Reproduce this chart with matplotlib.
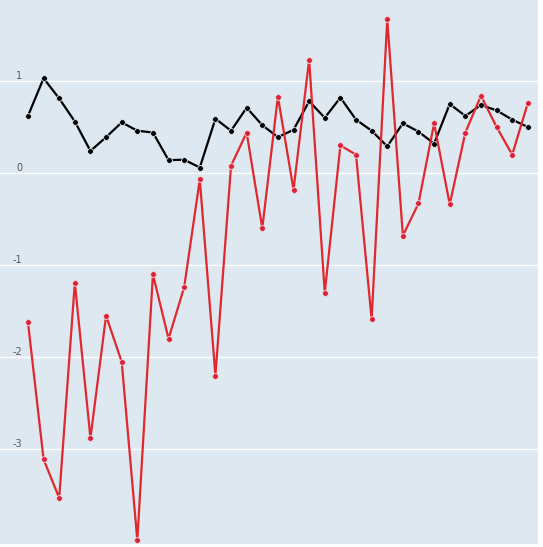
import matplotlib

matplotlib.use("Agg")
import matplotlib.pyplot as plt
import numpy as np

# values, one per x step
black_vals = [0.62, 1.03, 0.81, 0.56, 0.24, 0.39, 0.55, 0.46, 0.44, 0.14, 0.145,
              0.06, 0.59, 0.46, 0.71, 0.52, 0.39, 0.47, 0.78, 0.60, 0.82, 0.58,
              0.46, 0.29, 0.54, 0.45, 0.32, 0.75, 0.62, 0.74, 0.68, 0.58, 0.50]
red_vals = [-1.62, -3.11, -3.53, -1.19, -2.88, -1.55, -2.05, -3.99, -1.10, -1.80,
            -1.24, -0.07, -2.20, 0.08, 0.44, -0.60, 0.83, -0.18, 1.23, -1.30,
            0.30, 0.20, -1.59, 1.67, -0.68, -0.33, 0.54, -0.34, 0.44, 0.84,
            0.50, 0.20, 0.76]
y_ticks = [-3, -2, -1, 0, 1]
y_tick_labels = ["-3", "-2", "-1", "0", "1"]

BG = "#dde8f0"

fig = plt.figure(figsize=(5.43, 5.47), dpi=100)
fig.patch.set_facecolor("white")
ax = fig.add_axes([0, 3 / 547, 538 / 543, 544 / 547])
ax.set_facecolor(BG)

x = np.arange(len(black_vals))
ax.plot(x, black_vals, color="black", lw=1.6, marker="o", ms=4.2,
        mfc="black", mec=BG, mew=0.6, zorder=3)
ax.plot(x, red_vals, color="#e0282f", lw=1.6, marker="o", ms=4.2,
        mfc="#d8233f", mec="#f4d6d6", mew=0.6, zorder=4)

ax.set_xlim(-1.79, 32.65)
ax.set_ylim(-4.03, 1.88)
ax.set_xticks([])
ax.set_yticks(y_ticks)
ax.set_yticklabels(y_tick_labels)
ax.grid(axis="y", color="white", lw=1.0, zorder=1)
ax.set_axisbelow(True)
ax.tick_params(axis="y", length=0, pad=-16, labelsize=7, labelcolor="#555555")
for lab in ax.get_yticklabels():
    lab.set_verticalalignment("bottom")
    lab.set_horizontalalignment("right")
for spine in ax.spines.values():
    spine.set_visible(False)

fig.savefig("out.png", dpi=100, facecolor=fig.get_facecolor())
